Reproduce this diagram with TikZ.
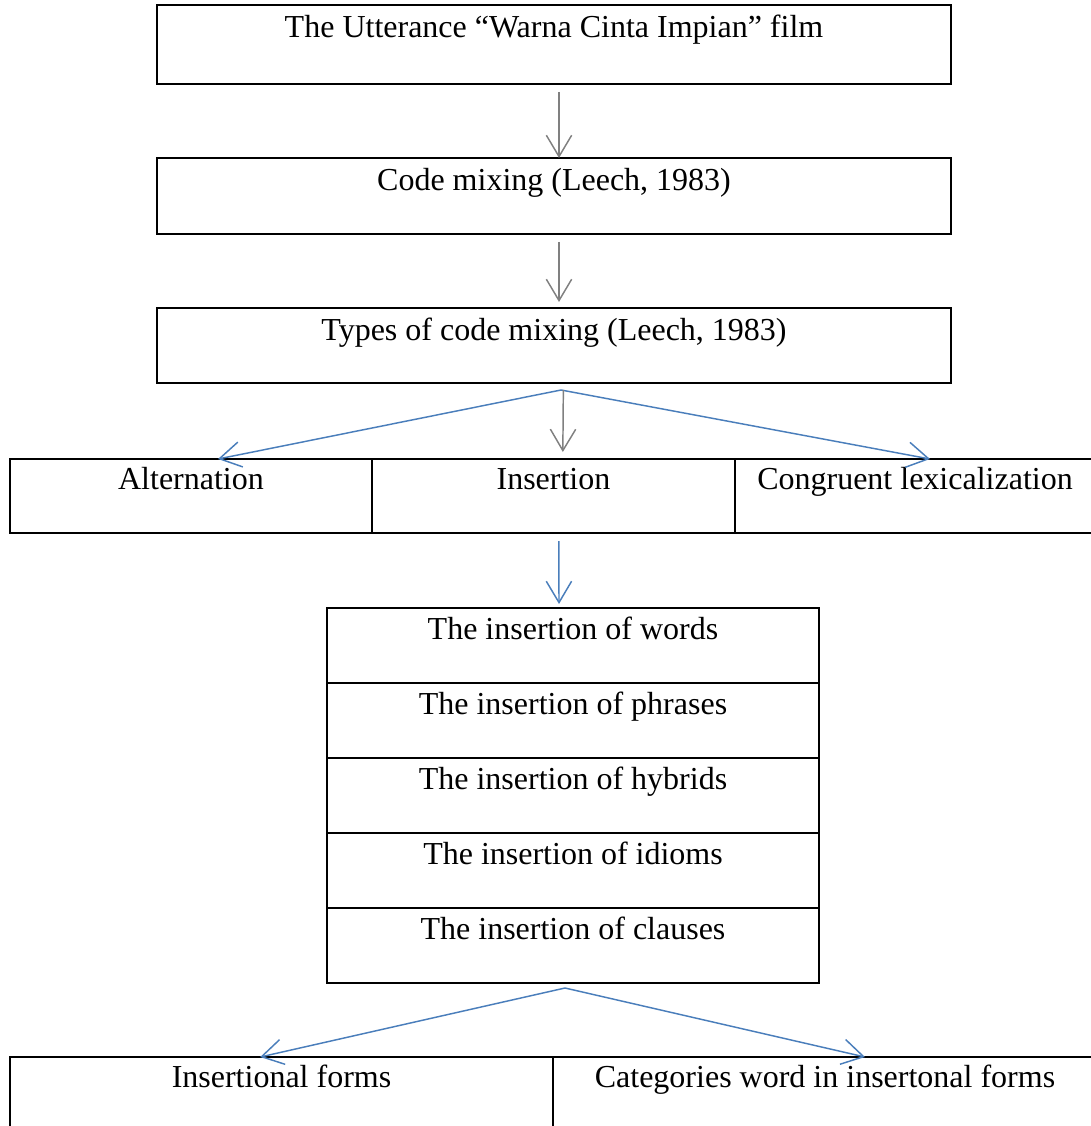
\documentclass[tikz,border=0pt]{standalone}
\usepackage{fontspec}
\setmainfont{Liberation Serif}
\usepackage{tikz}
\usetikzlibrary{arrows.meta,positioning}
\definecolor{LinkBlue}{RGB}{74,126,187}
\definecolor{LinkGray}{RGB}{128,128,128}
\tikzstyle{box}  =[draw, line width=2pt, inner xsep=0pt, inner ysep=0pt,
                   outer sep=0pt, anchor=north, text height=24.5pt,
                   font=\fontsize{24}{28}\selectfont]
\tikzstyle{edge} =[line width=1.1pt,
                   -{Straight Barb[length=16pt,width=19pt]}]

\begin{document}
\begin{tikzpicture}[x=0.75pt, y=-0.75pt]
\useasboundingbox (0,0) rectangle (1090,1126);
% main chain
\node (utter) [box, minimum width=595.5pt, text depth=34.75pt] at (554,5)
      {The Utterance “Warna Cinta Impian” film};
\node (code) [box, minimum width=595.5pt, text depth=32.5pt] at (554,158)
      {Code mixing (Leech, 1983)};
\node (types) [box, minimum width=595.5pt, text depth=31.75pt] at (554,308)
      {Types of code mixing (Leech, 1983)};
% three types
\node (alt) [box, minimum width=271.5pt, text height=22.5pt, text depth=33pt]
      at (191,459) {Alternation};
\node (ins) [box, minimum width=272.25pt, text height=22.5pt, text depth=33pt,
      anchor=north west] at (alt.north east) {Insertion};
\node (cong) [box, minimum width=270pt, text height=22.5pt, text depth=33pt,
      anchor=north west] at (ins.north east) {Congruent lexicalization};
% kinds of insertion
\node (words) [box, minimum width=369pt, text height=23.5pt, text depth=32.75pt]
      at (573,608) {The insertion of words};
\node (phrases) [box, minimum width=369pt, text height=23.5pt, text depth=32.75pt,
      below=0pt of words] {The insertion of phrases};
\node (hybrids) [box, minimum width=369pt, text height=23.5pt, text depth=32.75pt,
      below=0pt of phrases] {The insertion of hybrids};
\node (idioms) [box, minimum width=369pt, text height=23.5pt, text depth=32.75pt,
      below=0pt of hybrids] {The insertion of idioms};
\node (clauses) [box, minimum width=369pt, text height=23.5pt, text depth=32.75pt,
      below=0pt of idioms] {The insertion of clauses};
% results
\node (forms) [box, minimum width=407.25pt, text height=23pt, text depth=40pt]
      at (281.5,1057) {Insertional forms};
\node (cats) [box, minimum width=408pt, text height=23pt, text depth=40pt,
      anchor=north west] at (forms.north east)
      {Categories word in insertonal forms};
% connectors
\coordinate (split1) at ([xshift=5.25pt,yshift=-5.25pt]types.south);
\coordinate (split2) at ([xshift=-6pt,yshift=-3.75pt]clauses.south);
\draw [edge, LinkGray] ([xshift=3.75pt,yshift=-6pt]utter.south)
      -- ([xshift=3.75pt]code.north);
\draw [edge, LinkGray] ([xshift=3.75pt,yshift=-6pt]code.south)
      -- ([xshift=3.75pt,yshift=4.5pt]types.north);
\draw [edge, LinkBlue] (split1) -- ([xshift=20.25pt]alt.north);
\draw [edge, LinkBlue] (split1) -- ([xshift=11.25pt]cong.north);
\draw [edge, LinkGray] ([xshift=7pt,yshift=-5.25pt]types.south)
      -- ([xshift=7pt,yshift=5.25pt]ins.north);
\draw [edge, LinkBlue] ([xshift=4pt,yshift=-6pt]ins.south)
      -- ([xshift=-10.5pt,yshift=3pt]words.north);
\draw [edge, LinkBlue] (split2) -- ([xshift=-16pt]forms.north);
\draw [edge, LinkBlue] (split2) -- ([xshift=30pt]cats.north);
\end{tikzpicture}
\end{document}
